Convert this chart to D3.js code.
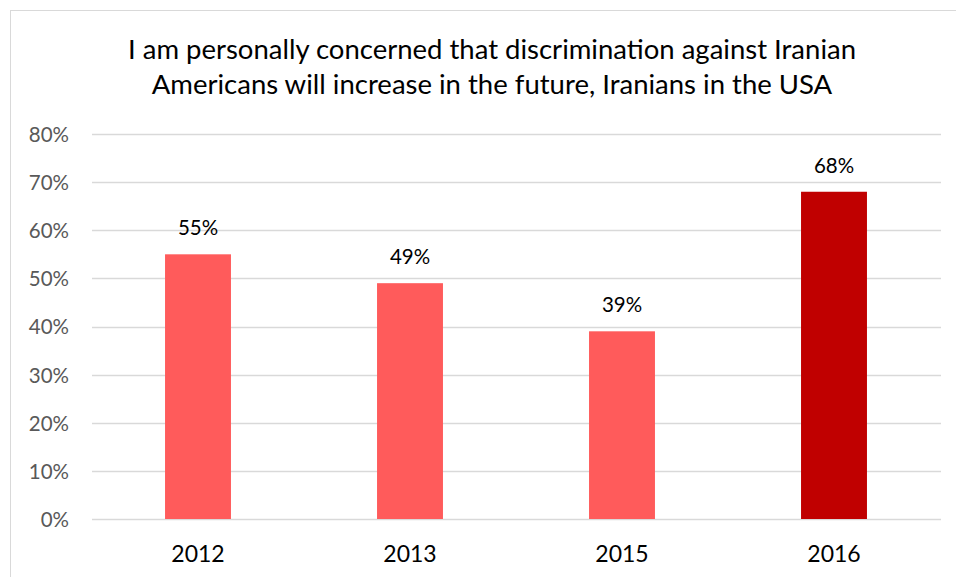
<!DOCTYPE html>
<html><head><meta charset="utf-8">
<script src="https://cdn.jsdelivr.net/npm/d3@7"></script>
<style>body{margin:0;background:#fff}svg{display:block}</style>
</head><body>
<script>
const categories = ["2012", "2013", "2015", "2016"];
const values = [55, 49, 39, 68];
const barColors = ["#FF5B5B", "#FF5B5B", "#FF5B5B", "#C00000"];
const yTicks = [0, 10, 20, 30, 40, 50, 60, 70, 80];
const titleLines = ["I am personally concerned that discrimination against Iranian", "Americans will increase in the future, Iranians in the USA"];

const W = 956, H = 577;
const svg = d3.select("body").append("svg").attr("width", W).attr("height", H);
const font = "Lato, 'Open Sans', sans-serif";

svg.append("rect").attr("x", 10.5).attr("y", 10.5).attr("width", W).attr("height", H)
  .attr("fill", "#fff").attr("stroke", "#D9D9D9").attr("stroke-width", 1);

const x = d3.scaleBand().domain(categories).range([92, 940]).paddingInner(0.689).paddingOuter(0.3445);
const y = d3.scaleLinear().domain([0, 80]).range([519, 134]);

// gridlines
svg.append("g").selectAll("line").data(yTicks).join("line")
  .attr("x1", 92).attr("x2", 941)
  .attr("y1", d => Math.round(y(d)) + 0.5).attr("y2", d => Math.round(y(d)) + 0.5)
  .attr("stroke", "#D9D9D9").attr("stroke-width", 1.3);

// y axis
const yAxis = d3.axisLeft(y).tickValues(yTicks).tickFormat(d => d + "%").tickSize(0).tickPadding(0);
const gy = svg.append("g").attr("transform", "translate(69,0)").call(yAxis);
gy.select(".domain").remove();
gy.selectAll("text").attr("fill", "#595959").attr("font-size", 20.5).attr("font-family", font).attr("dy", "0.36em");

// x axis
const xAxis = d3.axisBottom(x).tickSize(0).tickPadding(0);
const gx = svg.append("g").attr("transform", "translate(0,562)").call(xAxis);
gx.select(".domain").remove();
gx.selectAll("text").attr("fill", "#000").attr("font-size", 23).attr("font-family", font).attr("dy", "0");

// bars
svg.append("g").selectAll("rect").data(values).join("rect")
  .attr("x", (d, i) => x(categories[i])).attr("width", x.bandwidth())
  .attr("y", d => y(d)).attr("height", d => y(0) - y(d))
  .attr("fill", (d, i) => barColors[i]);

// labels
svg.append("g").selectAll("text").data(values).join("text")
  .attr("x", (d, i) => x(categories[i]) + x.bandwidth() / 2)
  .attr("y", d => y(d) - 19)
  .attr("text-anchor", "middle").attr("font-size", 20.5).attr("font-family", font).attr("fill", "#000")
  .text(d => d + "%");

// title
svg.append("g").selectAll("text").data(titleLines).join("text")
  .attr("x", 492).attr("y", (d, i) => 59 + i * 35)
  .attr("text-anchor", "middle").attr("font-size", 27.5).attr("font-family", font).attr("fill", "#000")
  .text(d => d);
</script>
</body></html>
